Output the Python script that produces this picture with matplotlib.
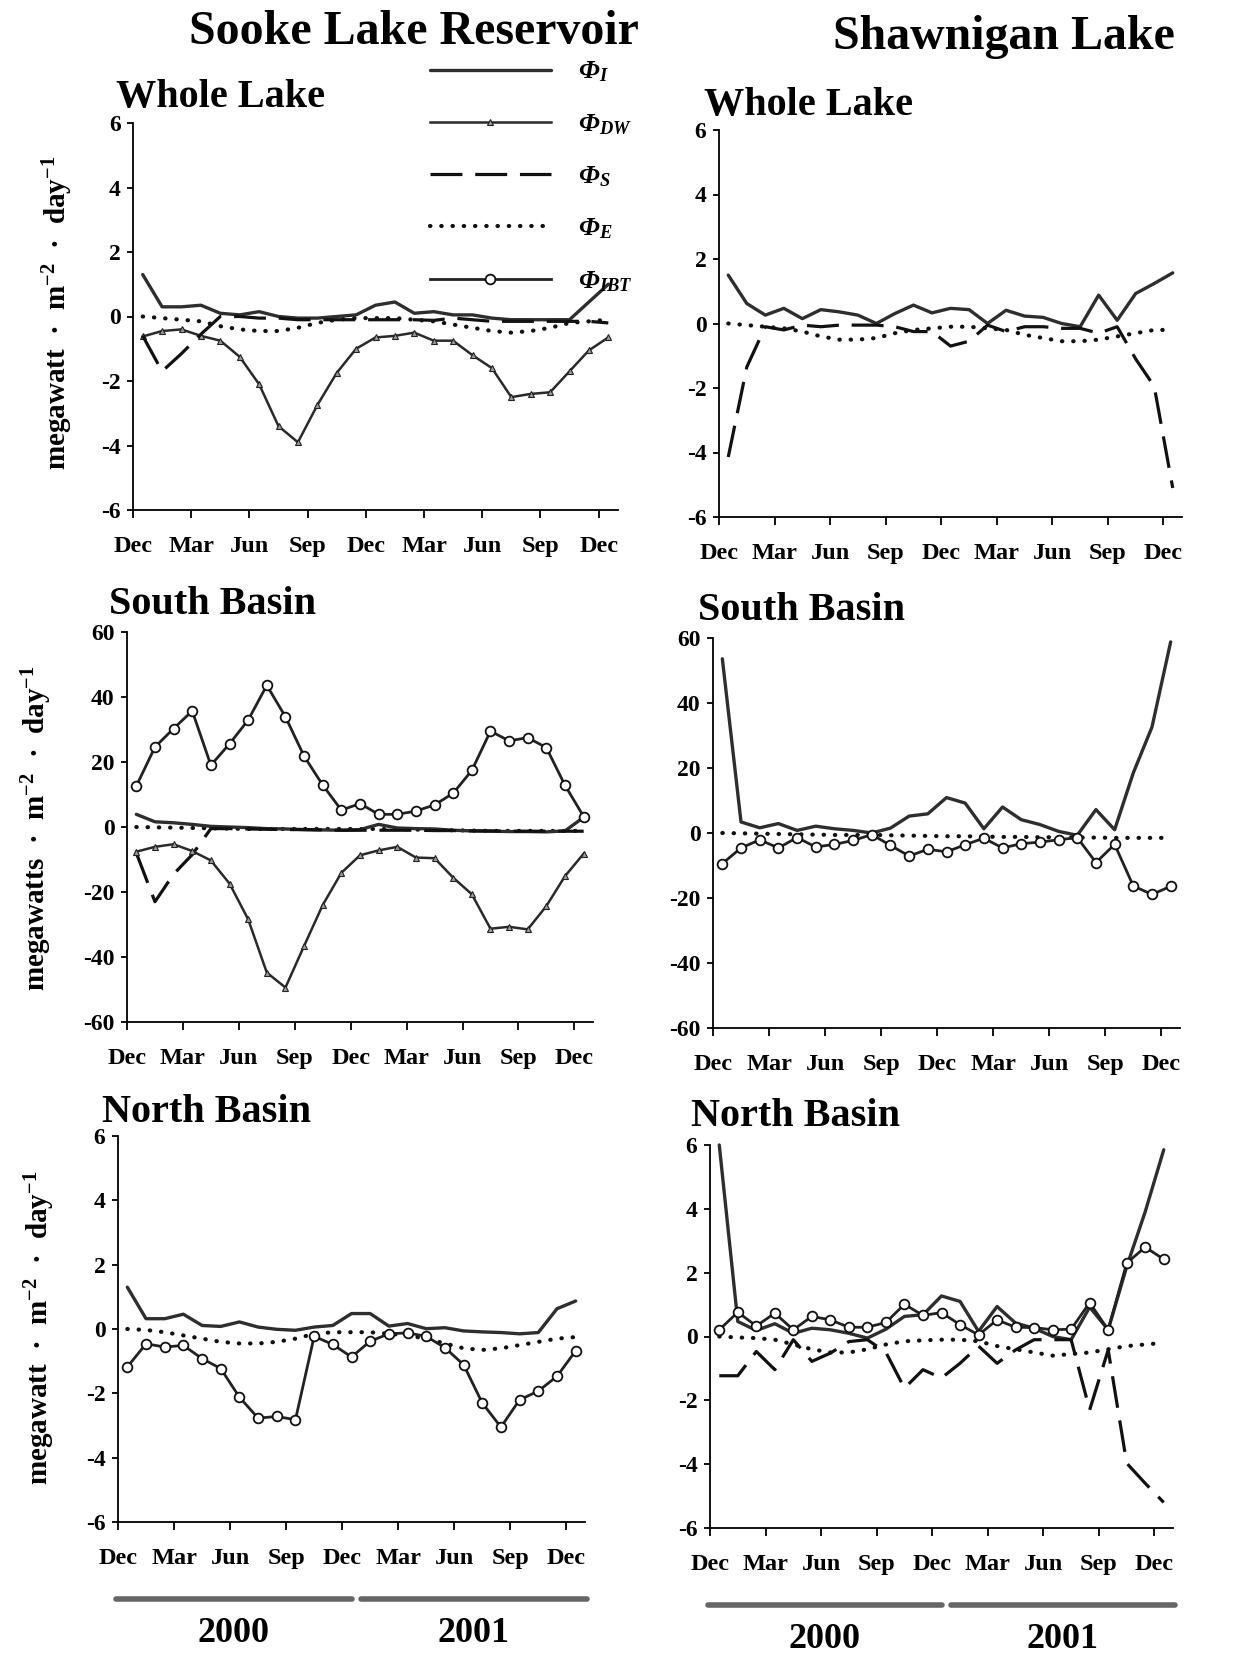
import matplotlib
matplotlib.use("Agg")
import matplotlib.pyplot as plt
import matplotlib.transforms as mtransforms
from matplotlib.lines import Line2D
import numpy as np

plt.rcParams["font.family"] = ["Liberation Serif", "DejaVu Serif"]
plt.rcParams["font.weight"] = "bold"
plt.rcParams["mathtext.fontset"] = "custom"
plt.rcParams["mathtext.default"] = "regular"
plt.rcParams["axes.unicode_minus"] = False

# ---- data: 25 roughly monthly samples, Dec 1999 .. Dec 2001 ----
month_labels = ["Dec", "Mar", "Jun", "Sep", "Dec", "Mar", "Jun", "Sep", "Dec"]
years = ["2000", "2001"]

# Sooke Lake Reservoir - Whole Lake
sooke_whole_I = [1.3, 0.3, 0.3, 0.35, 0.1, 0.05, 0.15, 0.0, -0.05, -0.05, 0.0, 0.05,
                 0.35, 0.45, 0.1, 0.15, 0.05, 0.05, -0.05, -0.1, -0.1, -0.1, -0.1, 0.45, 1.0]
sooke_whole_DW = [-0.62, -0.45, -0.4, -0.6, -0.75, -1.25, -2.1, -3.4, -3.9, -2.75, -1.75, -1.0,
                  -0.65, -0.6, -0.5, -0.75, -0.75, -1.2, -1.6, -2.5, -2.4, -2.35, -1.7, -1.05, -0.65]
sooke_whole_S = [-0.6, -1.7, -1.15, -0.55, 0.0, 0.0, -0.05, -0.05, -0.1, -0.1, -0.1, -0.1,
                 -0.1, -0.1, -0.1, -0.12, -0.05, -0.1, -0.15, -0.15, -0.15, -0.15, -0.15, -0.15, -0.2]
sooke_whole_E = [0.0, -0.05, -0.1, -0.15, -0.3, -0.4, -0.45, -0.45, -0.35, -0.2, -0.1, -0.05,
                 -0.05, -0.05, -0.1, -0.15, -0.25, -0.35, -0.45, -0.5, -0.45, -0.35, -0.2, -0.15, -0.1]

# Sooke Lake Reservoir - South Basin
sooke_south_I = [3.9, 1.6, 1.3, 0.8, 0.2, 0.0, -0.2, -0.5, -0.6, -0.8, -0.9, -1.0,
                 -0.8, 0.8, -0.3, -0.5, -0.6, -1.0, -1.2, -1.3, -1.4, -1.4, -1.5, -1.2, 3.0]
sooke_south_DW = [-7.6, -6.1, -5.3, -7.4, -10.3, -17.4, -28.4, -44.8, -49.4, -36.6, -24.0, -14.1,
                  -8.7, -7.2, -6.1, -9.4, -9.6, -15.6, -20.7, -31.3, -30.7, -31.5, -24.3, -15.1, -8.2]
sooke_south_S = [-8.0, -23.0, -14.5, -8.5, -0.5, -0.5, -0.6, -0.7, -0.8, -0.8, -0.9, -1.0,
                 -1.0, -1.0, -1.0, -1.0, -1.1, -1.1, -1.2, -1.2, -1.3, -1.3, -1.3, -1.3, -1.3]
sooke_south_E = [0.0, -0.1, -0.2, -0.3, -0.4, -0.5, -0.6, -0.6, -0.6, -0.6, -0.6, -0.6,
                 -0.6, -0.6, -0.7, -0.8, -0.9, -1.0, -1.1, -1.2, -1.2, -1.2, -1.2, -1.2, -1.2]
sooke_south_IBT = [12.6, 24.6, 30.3, 35.7, 19.0, 25.6, 32.9, 43.6, 33.9, 21.8, 12.9, 5.2,
                   7.2, 3.9, 3.9, 4.9, 6.8, 10.4, 17.4, 29.5, 26.5, 27.5, 24.4, 12.8, 3.2]

# Sooke Lake Reservoir - North Basin
sooke_north_I = [1.3, 0.32, 0.32, 0.46, 0.11, 0.08, 0.22, 0.06, -0.01, -0.04, 0.06, 0.11,
                 0.48, 0.48, 0.09, 0.17, 0.01, 0.04, -0.06, -0.09, -0.11, -0.15, -0.11, 0.63, 0.87]
sooke_north_E = [0.0, -0.03, -0.1, -0.2, -0.3, -0.4, -0.45, -0.45, -0.4, -0.3, -0.15, -0.1,
                 -0.1, -0.1, -0.15, -0.2, -0.3, -0.45, -0.6, -0.65, -0.6, -0.5, -0.4, -0.3, -0.25]
sooke_north_IBT = [-1.18, -0.46, -0.56, -0.51, -0.92, -1.23, -2.12, -2.77, -2.72, -2.82, -0.23, -0.48,
                   -0.87, -0.38, -0.15, -0.12, -0.23, -0.58, -1.11, -2.3, -3.05, -2.2, -1.93, -1.47, -0.68]

# Shawnigan Lake - Whole Lake
shaw_whole_I = [1.5, 0.62, 0.26, 0.47, 0.15, 0.43, 0.36, 0.26, 0.0, 0.31, 0.57, 0.33,
                0.47, 0.43, 0.0, 0.41, 0.23, 0.19, 0.0, -0.1, 0.88, 0.1, 0.93, 1.24, 1.57]
shaw_whole_S = [-4.14, -1.35, -0.1, -0.2, -0.05, -0.1, -0.05, -0.05, -0.05, -0.1, -0.25, -0.25,
                -0.7, -0.55, -0.05, -0.25, -0.1, -0.1, -0.15, -0.15, -0.3, -0.1, -1.1, -1.95, -5.1]
shaw_whole_E = [0.0, -0.05, -0.1, -0.15, -0.25, -0.4, -0.5, -0.5, -0.45, -0.3, -0.2, -0.15,
                -0.1, -0.1, -0.15, -0.2, -0.35, -0.45, -0.55, -0.55, -0.5, -0.4, -0.3, -0.2, -0.2]

# Shawnigan Lake - South Basin
shaw_south_I = [53.6, 3.4, 1.6, 2.9, 0.8, 2.1, 1.3, 0.8, 0.0, 1.5, 5.2, 5.9,
                10.9, 9.2, 1.3, 8.0, 4.1, 2.6, 0.5, -0.7, 7.2, 1.0, 18.5, 32.6, 58.8]
shaw_south_E = [0.0, -0.1, -0.2, -0.3, -0.4, -0.5, -0.6, -0.6, -0.6, -0.7, -0.8, -0.9,
                -1.0, -1.0, -1.1, -1.2, -1.2, -1.3, -1.3, -1.4, -1.4, -1.5, -1.5, -1.5, -1.5]
shaw_south_IBT = [-9.4, -4.6, -2.1, -4.6, -1.4, -4.3, -3.5, -2.3, -0.5, -3.8, -7.1, -5.0,
                  -5.8, -3.6, -1.6, -4.6, -3.3, -2.8, -2.1, -1.4, -9.1, -3.5, -16.3, -18.9, -16.4]

# Shawnigan Lake - North Basin
shaw_north_I = [6.0, 0.47, 0.19, 0.4, 0.1, 0.26, 0.21, 0.1, -0.05, 0.23, 0.63, 0.68,
                1.27, 1.1, 0.16, 0.94, 0.42, 0.26, 0.0, -0.1, 0.92, 0.21, 2.19, 3.91, 5.85]
shaw_north_S = [-1.23, -1.23, -0.47, -1.04, -0.1, -0.78, -0.52, -0.16, -0.1, -0.5, -1.62, -1.04,
                -1.3, -0.84, -0.3, -0.84, -0.42, -0.1, -0.1, -0.1, -2.3, -0.42, -3.97, -4.6, -5.2]
shaw_north_E = [0.0, -0.03, -0.05, -0.1, -0.25, -0.4, -0.5, -0.5, -0.4, -0.25, -0.15, -0.12,
                -0.1, -0.1, -0.15, -0.3, -0.4, -0.5, -0.6, -0.55, -0.5, -0.4, -0.3, -0.25, -0.2]
shaw_north_IBT = [0.21, 0.76, 0.33, 0.73, 0.21, 0.63, 0.52, 0.29, 0.29, 0.44, 1.01, 0.66,
                  0.75, 0.37, 0.05, 0.52, 0.29, 0.28, 0.21, 0.23, 1.06, 0.21, 2.3, 2.8, 2.42]

# ---- styles ----
STYLE = {
    "I": dict(color="#2e2e2e", lw=2.4, solid_capstyle="round"),
    "DW": dict(color="#2a2a2a", lw=1.8, marker="^", ms=5, mfc="#9a9a9a", mec="#222222", mew=0.8),
    "S": dict(color="#111111", lw=2.3, dashes=(10, 4)),
    "E": dict(color="#111111", lw=3.0, dashes=(0.1, 2.6), dash_capstyle="round"),
    "IBT": dict(color="#222222", lw=2.0, marker="o", ms=7, mfc="white", mec="#111111", mew=1.3),
}

W, H = 1248, 1653
fig = plt.figure(figsize=(W / 100, H / 100), dpi=100)


def add_axes(left, right, top, bottom):
    return fig.add_axes([left / W, 1 - bottom / H, (right - left) / W, (bottom - top) / H])


def style_axes(ax, ylim, yticks):
    ax.set_xlim(-0.5, 24.5)
    ax.set_ylim(*ylim)
    ax.set_xticks(np.arange(-0.5, 24, 3))
    ax.set_xticklabels(month_labels)
    ax.set_yticks(yticks)
    ax.set_yticklabels([str(v) for v in yticks])
    for s in ("top", "right"):
        ax.spines[s].set_visible(False)
    for s in ("left", "bottom"):
        ax.spines[s].set_linewidth(1.3)
    ax.tick_params(axis="x", direction="out", length=6, width=1.3, pad=13, labelsize=17.5)
    ax.tick_params(axis="y", direction="out", length=4, width=1.3, pad=5, labelsize=17)
    for lab in ax.get_xticklabels() + ax.get_yticklabels():
        lab.set_fontweight("bold")


def draw(ax, series):
    x = np.arange(25)
    for key, vals in series:
        ax.plot(x, vals, clip_on=False, **STYLE[key])


def year_bars(ax):
    trans = mtransforms.blended_transform_factory(ax.transData, ax.transAxes)
    for (x0, x1), yr in zip([(-0.6, 12.0), (12.5, 24.6)], years):
        ax.plot([x0, x1], [-0.20, -0.20], color="#666666", lw=4, transform=trans,
                clip_on=False, solid_capstyle="round")
        ax.text((x0 + x1) / 2, -0.29, yr, transform=trans, ha="center", va="center",
                fontsize=26, fontweight="bold")


small = [-6, -4, -2, 0, 2, 4, 6]
big = [-60, -40, -20, 0, 20, 40, 60]

# Sooke column
ax1 = add_axes(133, 618, 123, 510)
style_axes(ax1, (-6, 6), small)
draw(ax1, [("I", sooke_whole_I), ("DW", sooke_whole_DW), ("S", sooke_whole_S), ("E", sooke_whole_E)])

ax3 = add_axes(127, 593, 632, 1022)
style_axes(ax3, (-60, 60), big)
draw(ax3, [("E", sooke_south_E), ("I", sooke_south_I), ("S", sooke_south_S),
           ("DW", sooke_south_DW), ("IBT", sooke_south_IBT)])

ax5 = add_axes(118, 585, 1136, 1522)
style_axes(ax5, (-6, 6), small)
draw(ax5, [("I", sooke_north_I), ("E", sooke_north_E), ("IBT", sooke_north_IBT)])
year_bars(ax5)

# Shawnigan column
ax2 = add_axes(719, 1182, 130, 517)
style_axes(ax2, (-6, 6), small)
draw(ax2, [("I", shaw_whole_I), ("S", shaw_whole_S), ("E", shaw_whole_E)])

ax4 = add_axes(713, 1180, 638, 1028)
style_axes(ax4, (-60, 60), big)
draw(ax4, [("I", shaw_south_I), ("E", shaw_south_E), ("IBT", shaw_south_IBT)])

ax6 = add_axes(710, 1173, 1145, 1528)
style_axes(ax6, (-6, 6), small)
draw(ax6, [("I", shaw_north_I), ("S", shaw_north_S), ("E", shaw_north_E), ("IBT", shaw_north_IBT)])
year_bars(ax6)

# titles
fig.text(414 / W, 1 - 32 / H, "Sooke Lake Reservoir", ha="center", va="center",
         fontsize=34.5, fontweight="bold")
fig.text(1004 / W, 1 - 37 / H, "Shawnigan Lake", ha="center", va="center",
         fontsize=34.5, fontweight="bold")
for (x0, y0), name in zip([(116, 98), (109, 604), (102, 1112), (704, 105), (698, 611), (691, 1117)],
                          ["Whole Lake", "South Basin", "North Basin"] * 2):
    fig.text(x0 / W, 1 - y0 / H, name, ha="left", va="center", fontsize=29, fontweight="bold")

# y labels (left column only)
ylab = "megawatt{}  \u00b7  m$^{{-2}}$  \u00b7  day$^{{-1}}$"
for (x0, y0), plural in zip([(58, 313), (37, 828), (40, 1328)], ["", "s", ""]):
    fig.text(x0 / W, 1 - y0 / H, ylab.format(plural), rotation=90,
             ha="center", va="center", fontsize=21, fontweight="bold")

# legend
handles = [Line2D([], [], **STYLE[k]) for k in ["I", "DW", "S", "E", "IBT"]]
labels = ["\u03a6$_{I}$", "\u03a6$_{DW}$", "\u03a6$_{S}$", "\u03a6$_{E}$", "\u03a6$_{IBT}$"]
fig.legend(handles, labels, loc="upper left", bbox_to_anchor=(406 / W, 1 - 36 / H),
           frameon=False, handlelength=4.6, handletextpad=1.0, labelspacing=1.05,
           prop=dict(family="Liberation Serif", weight="bold", style="italic", size=19))

fig.savefig("out.png", dpi=100)
